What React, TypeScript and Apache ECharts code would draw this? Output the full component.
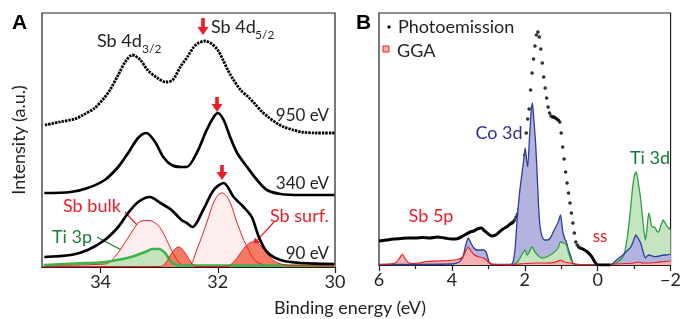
import React, { useEffect, useRef } from "react";
import * as echarts from "echarts";

// ---------- Panel A (Sb 4d core levels): [binding energy eV, intensity a.u.] ----------
const spec950: number[][] = [[34.95,142],[34.70,145],[34.44,148],[34.30,152],[34.10,159],[33.94,169],[33.84,177],[33.70,192],[33.58,205],[33.46,212],[33.32,207],[33.20,197],[33.03,189],[32.89,185],[32.77,187],[32.64,200],[32.52,210],[32.41,220],[32.33,224],[32.22,226],[32.10,223],[32.00,217],[31.91,207],[31.83,197],[31.73,187],[31.61,177],[31.48,170],[31.38,164],[31.26,156],[31.14,150],[31.00,144],[30.87,140],[30.71,137],[30.57,135],[30.32,134],[30.01,134]];
const spec340: number[][] = [[34.96,74],[34.51,75],[34.22,79],[33.93,87],[33.70,100],[33.53,114],[33.36,129],[33.22,134],[33.07,125],[32.93,110],[32.79,102],[32.62,100],[32.53,100],[32.36,114],[32.19,137],[32.07,150],[32.00,154],[31.90,147],[31.79,130],[31.67,114],[31.50,100],[31.33,87],[31.16,77],[30.93,73],[30.57,72],[30.01,72]];
const spec90: number[][] = [[34.96,10],[34.51,12],[34.22,17],[33.93,27],[33.70,40],[33.53,54],[33.36,65],[33.16,70],[32.98,64],[32.79,57],[32.62,47],[32.53,44],[32.43,40],[32.25,57],[32.07,77],[31.90,84],[31.73,70],[31.56,60],[31.42,50],[31.30,30],[31.16,15],[30.93,7],[30.59,4],[30.01,3]];
const sbBulk: number[][] = [[34.97,1.5],[33.93,3],[33.76,10],[33.59,24],[33.41,40],[33.31,46],[33.19,46.5],[33.07,44],[32.96,37],[32.79,17],[32.67,5],[32.57,1.5],[32.48,2],[32.36,17],[32.19,44],[32.05,67],[31.93,74],[31.81,67],[31.67,44],[31.50,20],[31.33,5],[31.04,1.5],[30.01,1.5]];
const sbSurf: number[][] = [[34.97,0.5],[32.98,0.5],[32.88,5],[32.77,15],[32.67,20],[32.57,15],[32.46,5],[32.36,0.5],[31.86,0.5],[31.73,5],[31.61,14],[31.50,22],[31.40,25],[31.30,23],[31.18,15],[31.06,7],[30.92,3],[30.71,1.5],[30.01,1]];
const ti3p: number[][] = [[34.97,2],[34.44,3.5],[33.93,5],[33.48,10],[33.24,15],[33.11,18],[33.01,18],[32.90,14],[32.79,5],[32.64,1.5],[30.01,1.5]];

// ---------- Panel B (valence band) ----------
const peLeft: number[][] = [[6.00,24],[5.80,25],[5.60,26],[5.40,26.5],[5.20,27],[5.00,27],[4.80,27.5],[4.60,27],[4.40,28],[4.20,27],[4.00,26],[3.90,26],[3.80,27],[3.70,29],[3.60,31],[3.50,33],[3.40,34],[3.30,36],[3.20,37],[3.10,34],[3.00,31],[2.90,29],[2.80,30],[2.70,33],[2.60,36],[2.50,38],[2.40,41],[2.32,43]];
const peDots: number[][] = [[2.36,42],[2.32,43],[2.28,45],[2.24,48],[2.20,51],[2.16,56],[2.12,61],[2.08,70],[2.04,88],[2.00,110],[1.96,132],[1.92,146],[1.88,156],[1.84,175],[1.80,192],[1.76,206],[1.72,219],[1.68,230],[1.64,233],[1.60,228],[1.56,216],[1.52,202],[1.48,188],[1.44,177],[1.40,167],[1.36,158],[1.32,152],[1.28,149],[1.24,148],[1.20,148],[1.16,147],[1.12,146],[1.08,145],[1.04,143],[1.00,132],[0.96,118],[0.92,106],[0.88,93],[0.84,82],[0.80,72],[0.76,62],[0.72,52],[0.68,42],[0.64,32],[0.60,23],[0.56,20],[0.52,18],[0.48,17]];
const peRight: number[][] = [[0.46,17],[0.36,15],[0.28,13],[0.20,10],[0.14,7],[0.08,3],[0.02,0.5],[-0.10,0],[-0.35,0]];
const co3dHigh: number[][] = [[6.00,0.5],[4.00,1],[3.80,3],[3.70,8],[3.62,20],[3.55,27],[3.48,22],[3.40,17],[3.30,15],[3.20,15],[3.12,15],[3.05,12],[2.98,3],[2.90,0.5],[2.40,0.5],[2.33,2],[2.27,15],[2.21,45],[2.15,70],[2.09,88],[2.03,105],[1.99,117],[1.95,105],[1.92,98],[1.87,128],[1.82,155],[1.79,162],[1.75,145],[1.70,120],[1.66,90],[1.62,58],[1.58,38],[1.52,28],[1.46,25],[1.38,25],[1.30,27],[1.22,33],[1.15,38],[1.09,42],[1.02,50],[0.98,40],[0.95,32],[0.90,26],[0.86,23],[0.80,15],[0.73,8],[0.68,2],[0.60,0.3],[0.30,0.3]];
const co3dLow: number[][] = [[0.30,0.3],[-0.35,0.3],[-0.43,2],[-0.55,6],[-0.69,10],[-0.80,14],[-0.91,18],[-0.99,25],[-1.05,30],[-1.12,26],[-1.18,22],[-1.24,14],[-1.31,7],[-1.36,9],[-1.41,10],[-1.50,9],[-1.59,8.3],[-1.70,9],[-1.80,10],[-1.90,10],[-2.00,11]];
const ti3dHigh: number[][] = [[2.40,0.3],[2.28,1],[2.18,4],[2.10,9],[2.04,13],[1.99,15],[1.94,10],[1.89,12],[1.80,18],[1.72,13],[1.62,9],[1.53,7],[1.40,8],[1.22,12],[1.10,16],[1.02,23],[0.94,22],[0.86,20],[0.78,10],[0.73,5],[0.65,0.3],[0.30,0.3]];
const ti3dLow: number[][] = [[0.30,0.3],[-0.35,0.3],[-0.45,1],[-0.55,3],[-0.65,6],[-0.72,10],[-0.78,20],[-0.84,35],[-0.90,55],[-0.96,78],[-1.01,90],[-1.05,93],[-1.09,88],[-1.14,76],[-1.18,66],[-1.23,48],[-1.27,34],[-1.31,25],[-1.35,35],[-1.40,52],[-1.44,47],[-1.49,38],[-1.56,38],[-1.62,34],[-1.67,33],[-1.74,40],[-1.80,45],[-1.85,42],[-1.92,38],[-2.00,35]];
const sb5p: number[][] = [[6.00,0.5],[5.70,1],[5.55,2],[5.45,6],[5.36,11],[5.28,6],[5.18,2],[5.05,1.5],[4.90,2],[4.70,3.5],[4.40,4],[4.10,4.5],[3.85,5.5],[3.70,8],[3.62,14],[3.55,18],[3.48,14],[3.38,10],[3.25,8],[3.10,6.5],[3.00,3],[2.90,1],[2.70,0.5],[2.40,0.3],[2.20,0.8],[2.00,1.5],[1.70,2],[1.40,2],[1.20,2.5],[1.08,4],[1.02,5],[0.92,3],[0.75,2],[0.60,1],[0.50,0.5],[0.00,0.5],[-0.50,1],[-1.00,2],[-1.10,3],[-1.25,2],[-1.60,2.5],[-1.80,3.5],[-2.00,4]];

const ticksA = [30, 35, 2];
const ticksB = [-2, 6, 2];

const FONT = "Lato, 'Open Sans', sans-serif";
const INK = "#231f20";
const RED = "#ed1c24";

function lineArrow(x1: number, y1: number, x2: number, y2: number, color: string) {
  const dx = x2 - x1, dy = y2 - y1, L = Math.hypot(dx, dy), ux = dx / L, uy = dy / L;
  const hl = 8, hw = 3.5;
  const bx = x2 - ux * hl, by = y2 - uy * hl;
  return [
    { type: "line", shape: { x1, y1, x2: bx, y2: by }, style: { stroke: color, lineWidth: 1.2 } },
    { type: "polygon", shape: { points: [[x2, y2], [bx - uy * hw, by + ux * hw], [bx + uy * hw, by - ux * hw]] }, style: { fill: color } },
  ];
}
function downArrow(cx: number, top: number, tip: number) {
  const hw = 5.5, sw = 1.8, hy = tip - 8;
  return { type: "polygon", shape: { points: [[cx - sw, top], [cx + sw, top], [cx + sw, hy], [cx + hw, hy], [cx, tip], [cx - hw, hy], [cx - sw, hy]] }, style: { fill: RED } };
}
function txt(text: string, x: number, y: number, size: number, color: string, align = "left", extra: any = {}) {
  return { type: "text", x, y, ...extra, style: { text, fill: color, font: `${extra.bold ? "bold " : ""}${size}px ${extra.family || FONT}`, textAlign: align, textVerticalAlign: "middle", align, verticalAlign: "middle" } };
}

function areaSeries(name: string, data: number[][], axis: number, line: string, fill: string, width: number, smooth = 0.3) {
  return { type: "line", name, xAxisIndex: axis, yAxisIndex: axis, data, smooth, symbol: "none", lineStyle: { color: line, width }, areaStyle: { color: fill, opacity: 1 } };
}
function lineSeries(name: string, data: number[][], axis: number, width: number, extra: any = {}) {
  return { type: "line", name, xAxisIndex: axis, yAxisIndex: axis, data, smooth: 0.3, symbol: "none", lineStyle: { color: "#000", width, ...extra } };
}

export default function App() {
  const ref = useRef<HTMLDivElement>(null);
  useEffect(() => {
    if (!ref.current) return;
    const chart = echarts.init(ref.current, undefined, { renderer: "svg" });
    const axisCommon = {
      type: "value",
      inverse: true,
      splitLine: { show: false },
      axisLine: { show: true, lineStyle: { color: INK, width: 1.2 } },
      axisTick: { show: true, length: 6, lineStyle: { color: INK, width: 1.2 } },
      axisLabel: { color: INK, fontSize: 18, fontFamily: FONT, margin: 5, formatter: (v: number) => (v < 0 ? "\u2212" + Math.abs(v) : String(v)) },
    };
    const option: any = {
      animation: false,
      grid: [
        { left: 42, top: 13, width: 293, height: 254, show: true, borderColor: INK, borderWidth: 1.2 },
        { left: 379, top: 13, width: 300, height: 252, show: true, borderColor: INK, borderWidth: 1.2 },
      ],
      xAxis: [
        { ...axisCommon, gridIndex: 0, min: ticksA[0], max: ticksA[1], interval: ticksA[2], axisLabel: { ...axisCommon.axisLabel, showMaxLabel: false } },
        { ...axisCommon, gridIndex: 1, min: ticksB[0], max: ticksB[1], interval: ticksB[2], minorTick: { show: true, splitNumber: 2, length: 4, lineStyle: { color: INK, width: 1.2 } } },
      ],
      yAxis: [
        { type: "value", gridIndex: 0, min: 0, max: 254, show: false },
        { type: "value", gridIndex: 1, min: 0, max: 252, show: false },
      ],
      series: [
        areaSeries("Sb bulk", sbBulk, 0, RED, "#fdeded", 1, 0.4),
        areaSeries("Ti 3p", ti3p, 0, "#3cb44b", "#c3e4bb", 2.6, 0.4),
        areaSeries("Sb surf.", sbSurf, 0, RED, "#f37b63", 1, 0.4),
        lineSeries("90 eV", spec90, 0, 2.7),
        lineSeries("340 eV", spec340, 0, 2.7),
        lineSeries("950 eV", spec950, 0, 2.8, { type: [2.4, 1.0] }),
        areaSeries("Co 3d", co3dHigh, 1, "#2e3d9a", "#b3b3df", 1.3, 0.2),
        areaSeries("Ti 3d", ti3dHigh, 1, "#2e9e44", "#c5e5c0", 1.3, 0.2),
        areaSeries("Ti 3d", ti3dLow, 1, "#2e9e44", "#c5e5c0", 1.3, 0.2),
        areaSeries("Co 3d", co3dLow, 1, "#2e3d9a", "#b3b3df", 1.3, 0.2),
        areaSeries("Sb 5p", sb5p, 1, RED, "#f5b0b0", 1.2, 0.2),
        lineSeries("Photoemission", peLeft, 1, 3),
        lineSeries("Photoemission", peRight, 1, 3),
        { type: "scatter", name: "Photoemission", xAxisIndex: 1, yAxisIndex: 1, data: peDots, symbolSize: 3.6, itemStyle: { color: "#000" } },
      ],
      graphic: {
        elements: [
          txt("A", 12, 21, 21, "#000", "left", { bold: true, family: "'Liberation Sans', Arial, sans-serif" }),
          txt("B", 356, 21, 21, "#000", "left", { bold: true, family: "'Liberation Sans', Arial, sans-serif" }),
          txt("Intensity (a.u.)", 18, 140, 18, INK, "center", { rotation: Math.PI / 2 }),
          txt("Binding energy (eV)", 350, 307, 18, INK, "center"),
          txt("Sb 4d", 97, 40, 18, INK),
          txt("3/2", 142, 48, 12, INK),
          txt("Sb 4d", 211, 26, 18, INK),
          txt("5/2", 255, 34, 12, INK),
          txt("950 eV", 329, 114, 17, INK, "right"),
          txt("340 eV", 329, 182, 17, INK, "right"),
          txt("90 eV", 329, 252, 17, INK, "right"),
          txt("Sb bulk", 63, 205, 18, RED),
          txt("Ti 3p", 52, 236, 18, "#1e7b34"),
          txt("Sb surf.", 270, 215, 18, RED),
          downArrow(203, 18, 35),
          downArrow(217, 97, 112),
          downArrow(222, 165, 180),
          ...lineArrow(125, 212, 148, 237, RED),
          ...lineArrow(274, 222, 252, 246, RED),
          ...lineArrow(97, 237, 140, 260, "#1e7b34"),
          { type: "circle", shape: { cx: 389, cy: 27, r: 1.6 }, style: { fill: "#000" } },
          txt("Photoemission", 398, 26, 18, INK),
          { type: "rect", shape: { x: 383, y: 46, width: 6, height: 6 }, style: { fill: "#f5b0b0", stroke: RED, lineWidth: 1 } },
          txt("GGA", 397, 50, 18, INK),
          txt("Co 3d", 499, 132, 18, "#2e3192", "center"),
          txt("Ti 3d", 650, 157, 18, "#137a3a", "center"),
          txt("Sb 5p", 431, 215, 18, RED, "center"),
          txt("ss", 600, 235, 17, RED, "center"),
        ],
      },
    };
    chart.setOption(option);
    return () => chart.dispose();
  }, []);
  return <div ref={ref} style={{ position: "fixed", left: 0, top: 0, width: 684, height: 319 }} />;
}
